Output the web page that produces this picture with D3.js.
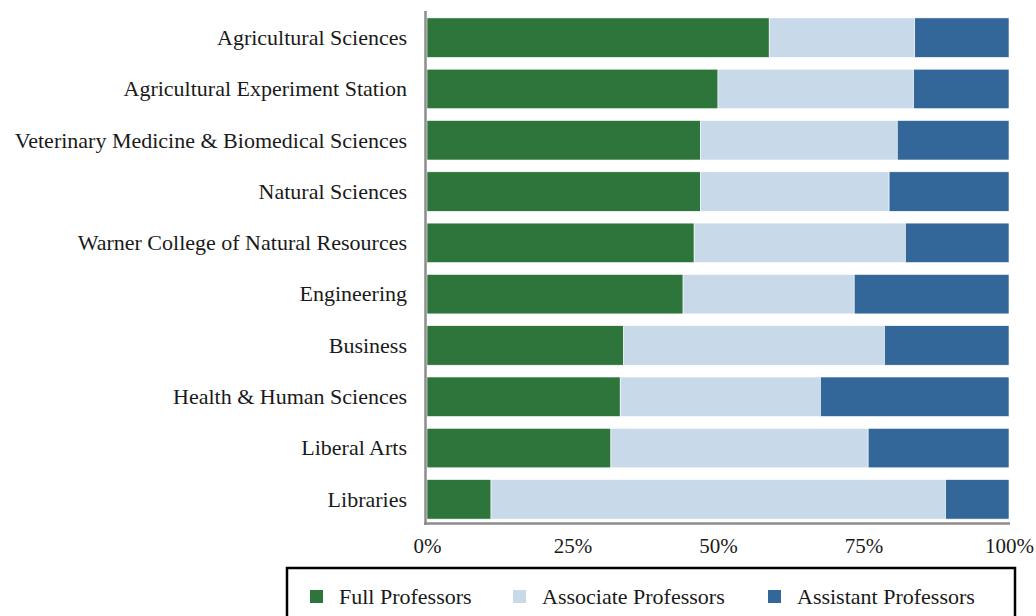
<!DOCTYPE html>
<html>
<head>
<meta charset="utf-8">
<script src="https://cdn.jsdelivr.net/npm/d3@7"></script>
<style>
  body { margin: 0; background: #fff; }
  svg text { font-family: "Liberation Serif", "DejaVu Serif", serif; fill: #1a1a1a; }
</style>
</head>
<body>
<div id="chart"></div>
<script>
// colleges, top to bottom
const colleges = [
  "Agricultural Sciences",
  "Agricultural Experiment Station",
  "Veterinary Medicine & Biomedical Sciences",
  "Natural Sciences",
  "Warner College of Natural Resources",
  "Engineering",
  "Business",
  "Health & Human Sciences",
  "Liberal Arts",
  "Libraries"
];

// share of faculty by rank, in percent
const fullProfessors      = [58.8, 50.0, 47.0, 47.0, 45.9, 44.0, 33.8, 33.2, 31.6, 11.0];
const associateProfessors = [25.0, 33.6, 33.8, 32.4, 36.3, 29.4, 44.8, 34.4, 44.2, 78.1];
const assistantProfessors = [16.2, 16.4, 19.2, 20.6, 17.8, 26.6, 21.4, 32.4, 24.2, 10.9];

const seriesNames = ["Full Professors", "Associate Professors", "Assistant Professors"];
const seriesColors = ["#2e753b", "#c8d9ea", "#336699"];
const tickValues = [0, 25, 50, 75, 100];

const width = 1036, height = 616;

const svg = d3.select("#chart").append("svg")
  .attr("width", width)
  .attr("height", height);

//build rows for the stack
const rows = colleges.map((c, i) => ({
  college: c,
  "Full Professors": fullProfessors[i],
  "Associate Professors": associateProfessors[i],
  "Assistant Professors": assistantProfessors[i]
}));

const stacked = d3.stack().keys(seriesNames)(rows);

const x = d3.scaleLinear().domain([0, 100]).range([427, 1009]);
const y = d3.scaleBand().domain(colleges).range([12, 525])
  .paddingInner(0.23).paddingOuter(0.115);
const color = d3.scaleOrdinal().domain(seriesNames).range(seriesColors);

//bars
svg.append("g")
  .selectAll("g")
  .data(stacked)
  .join("g")
    .attr("fill", d => color(d.key))
  .selectAll("rect")
  .data(d => d)
  .join("rect")
    .attr("x", d => x(d[0]))
    .attr("y", d => y(d.data.college))
    .attr("width", d => x(d[1]) - x(d[0]))
    .attr("height", y.bandwidth())
    .attr("stroke", "#fff")
    .attr("stroke-width", 0.6);

//category labels
svg.append("g")
  .selectAll("text")
  .data(colleges)
  .join("text")
    .attr("x", 407)
    .attr("y", d => y(d) + y.bandwidth() / 2)
    .attr("dy", "0.33em")
    .attr("text-anchor", "end")
    .style("font-size", "22px")
    .text(d => d);

//axis lines (gray)
svg.append("line")
  .attr("x1", 425.5).attr("x2", 425.5)
  .attr("y1", 11).attr("y2", 525)
  .attr("stroke", "#8c8c8c").attr("stroke-width", 2.5);
svg.append("line")
  .attr("x1", 424).attr("x2", 1010)
  .attr("y1", 523.5).attr("y2", 523.5)
  .attr("stroke", "#8c8c8c").attr("stroke-width", 2.5);

//x axis tick labels
const xAxis = svg.append("g")
  .attr("transform", "translate(0,535)")
  .call(d3.axisBottom(x).tickValues(tickValues).tickSize(0).tickFormat(d => d + "%"));
xAxis.select(".domain").remove();
xAxis.selectAll("text")
  .style("font-size", "21px")
  .style("font-family", "'Liberation Serif', 'DejaVu Serif', serif")
  .attr("fill", "#1a1a1a");

//legend box
svg.append("rect")
  .attr("x", 287).attr("y", 568)
  .attr("width", 728).attr("height", 60)
  .attr("fill", "none")
  .attr("stroke", "#000")
  .attr("stroke-width", 2.5);

const legendX = [310, 513, 768];
const legend = svg.append("g")
  .selectAll("g")
  .data(seriesNames)
  .join("g")
    .attr("transform", (d, i) => `translate(${legendX[i]},590)`);

legend.append("rect")
  .attr("width", 13).attr("height", 13)
  .attr("fill", d => color(d));

legend.append("text")
  .attr("x", 29)
  .attr("y", 6.5)
  .attr("dy", "0.33em")
  .style("font-size", "22px")
  .text(d => d);
</script>
</body>
</html>
